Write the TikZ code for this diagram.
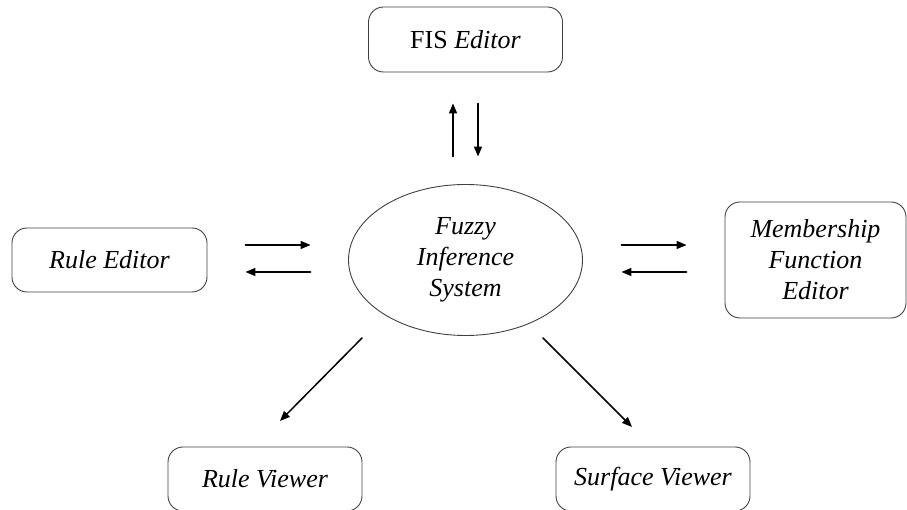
\documentclass[tikz,border=0pt]{standalone}
\usepackage{fontspec}
\setmainfont{Liberation Serif}
\usetikzlibrary{shapes.geometric,arrows.meta}

\begin{document}
\begin{tikzpicture}[x=1pt, y=1pt, >={Triangle[length=10pt,width=8pt]}, line cap=round,
  tool/.style={draw=black!75, line width=0.9pt, rounded corners=15pt,
    minimum width=194pt, minimum height=64pt, inner sep=0pt, align=center,
    font=\fontsize{26}{31}\selectfont\itshape},
  flow/.style={->, line width=1.5pt}]

  \useasboundingbox (0,0) rectangle (907,510);

  % centre
  \node[tool, ellipse, rounded corners=0pt, minimum width=234pt, minimum height=151pt]
    (fis) at (465.5,250) {Fuzzy\\Inference\\System};

  % tools round it
  \node[tool, minimum height=65pt] (editor)   at (465.5,470.5) {{\upshape FIS} Editor};
  \node[tool, minimum width=195pt] (rules)    at (109.5,250)   {Rule Editor};
  \node[tool, minimum width=181pt, minimum height=116pt]
                                   (mf)       at (815.5,250)   {Membership\\Function\\Editor};
  \node[tool]                      (ruleview) at (265,31)      {Rule Viewer};
  \node[tool]                      (surface)  at (653,31)      {Surface Viewer};

  % free ends of the diagonal arrows
  \coordinate (rvtail) at (362,172);
  \coordinate (rvhead) at (280,89);
  \coordinate (svtail) at (543,172);
  \coordinate (svhead) at (632,83);

  % FIS editor pair
  \draw[flow, shorten <=27.5pt, shorten >=31pt]
    ([xshift=-12.5pt]fis.north) -- ([xshift=-12.5pt]editor.south);
  \draw[flow, shorten <=31pt, shorten >=27.5pt]
    ([xshift=12.5pt]editor.south) -- ([xshift=12.5pt]fis.north);

  % rule editor pair
  \draw[flow, shorten <=38pt, shorten >=37.5pt]
    ([yshift=15pt]rules.east) -- ([yshift=15pt]fis.west);
  \draw[flow, shorten <=37.5pt, shorten >=38pt]
    ([yshift=-12pt]fis.west) -- ([yshift=-12pt]rules.east);

  % membership function editor pair
  \draw[flow, shorten <=38.5pt, shorten >=38pt]
    ([yshift=15pt]fis.east) -- ([yshift=15pt]mf.west);
  \draw[flow, shorten <=38pt, shorten >=38.5pt]
    ([yshift=-12pt]mf.west) -- ([yshift=-12pt]fis.east);

  % viewers
  \draw[flow] (rvtail) -- (rvhead);
  \draw[flow] (svtail) -- (svhead);

\end{tikzpicture}
\end{document}
